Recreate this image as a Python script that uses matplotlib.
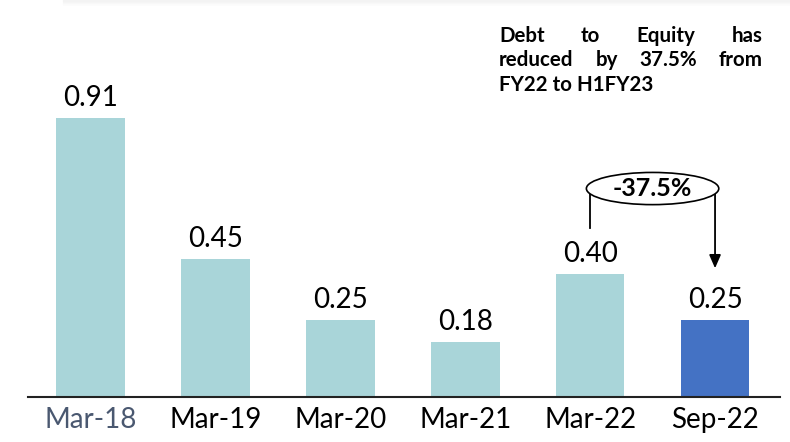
import matplotlib.pyplot as plt
from matplotlib.patches import Ellipse

periods = ["Mar-18", "Mar-19", "Mar-20", "Mar-21", "Mar-22", "Sep-22"]
debt_equity = [0.91, 0.45, 0.25, 0.18, 0.40, 0.25]
bar_colors = ["#A9D5D9", "#A9D5D9", "#A9D5D9", "#A9D5D9", "#A9D5D9", "#4472C4"]
tick_colors = ["#4A5870", "black", "black", "black", "black", "black"]
change_label = "-37.5%"
note_lines = [["Debt", "to", "Equity", "has"],
              ["reduced", "by", "37.5%", "from"],
              ["FY22 to H1FY23"]]

plt.rcParams['font.family'] = ['Lato', 'DejaVu Sans']

fig = plt.figure(figsize=(7.9, 4.42), dpi=100)
ax = fig.add_axes([28 / 790, 0.1018, 752 / 790, 0.8982])

x = range(len(periods))
ax.bar(x, debt_equity, width=0.55, color=bar_colors)
for i, v in enumerate(debt_equity):
    ax.annotate(f"{v:.2f}", (i, v), xytext=(0, 5), textcoords="offset points",
                ha="center", va="bottom", fontsize=20)

ax.set_xlim(-0.5, 5.52)
ax.set_ylim(0, 1.295)
ax.set_xticks(list(x))
ax.set_xticklabels(periods, fontsize=20)
for lbl, c in zip(ax.get_xticklabels(), tick_colors):
    lbl.set_color(c)
ax.tick_params(axis="x", length=0, pad=7)
ax.set_yticks([])
for s in ["top", "left", "right"]:
    ax.spines[s].set_visible(False)
ax.spines["bottom"].set_linewidth(1.5)
ax.spines["bottom"].set_color("#222222")

# change callout between Mar-22 and Sep-22
ey = 0.68
ax.add_patch(Ellipse((4.5, ey), 1.06, 0.105, facecolor="white",
                     edgecolor="black", lw=1.2, zorder=3))
ax.text(4.5, ey, change_label, ha="center", va="center", fontsize=18,
        fontweight="bold", zorder=4)
ax.plot([4.0, 4.0], [ey, 0.55], color="black", lw=1.3, zorder=2)
ax.annotate("", xy=(5.0, 0.42), xytext=(5.0, ey),
            arrowprops=dict(arrowstyle="-|>,head_width=0.35,head_length=0.8",
                            color="black", lw=1.3, shrinkA=0, shrinkB=0), zorder=2)

# justified note in the top right
x0, x1 = 499, 763
r = fig.canvas.get_renderer()
for row, words in enumerate(note_lines):
    y = 442 - 36 - row * 24.5
    if len(words) == 1:
        fig.text(x0 / 790, y / 442, words[0], ha="left", va="center",
                 fontsize=14.8, fontweight="bold")
        continue
    texts = [fig.text(0, y / 442, w, ha="left", va="center", fontsize=14.8,
                      fontweight="bold") for w in words]
    widths = [t.get_window_extent(r).width for t in texts]
    gap = (x1 - x0 - sum(widths)) / (len(words) - 1)
    pos = x0
    for t, wd in zip(texts, widths):
        t.set_x(pos / 790)
        pos += wd + gap

# faint shadow at the top edge
for k in range(6):
    fig.add_artist(plt.Line2D([0.08, 1], [1 - k / 442, 1 - k / 442],
                              color="#000000", alpha=0.04 * (6 - k) / 6, lw=1))

fig.savefig("out.png", dpi=100)
